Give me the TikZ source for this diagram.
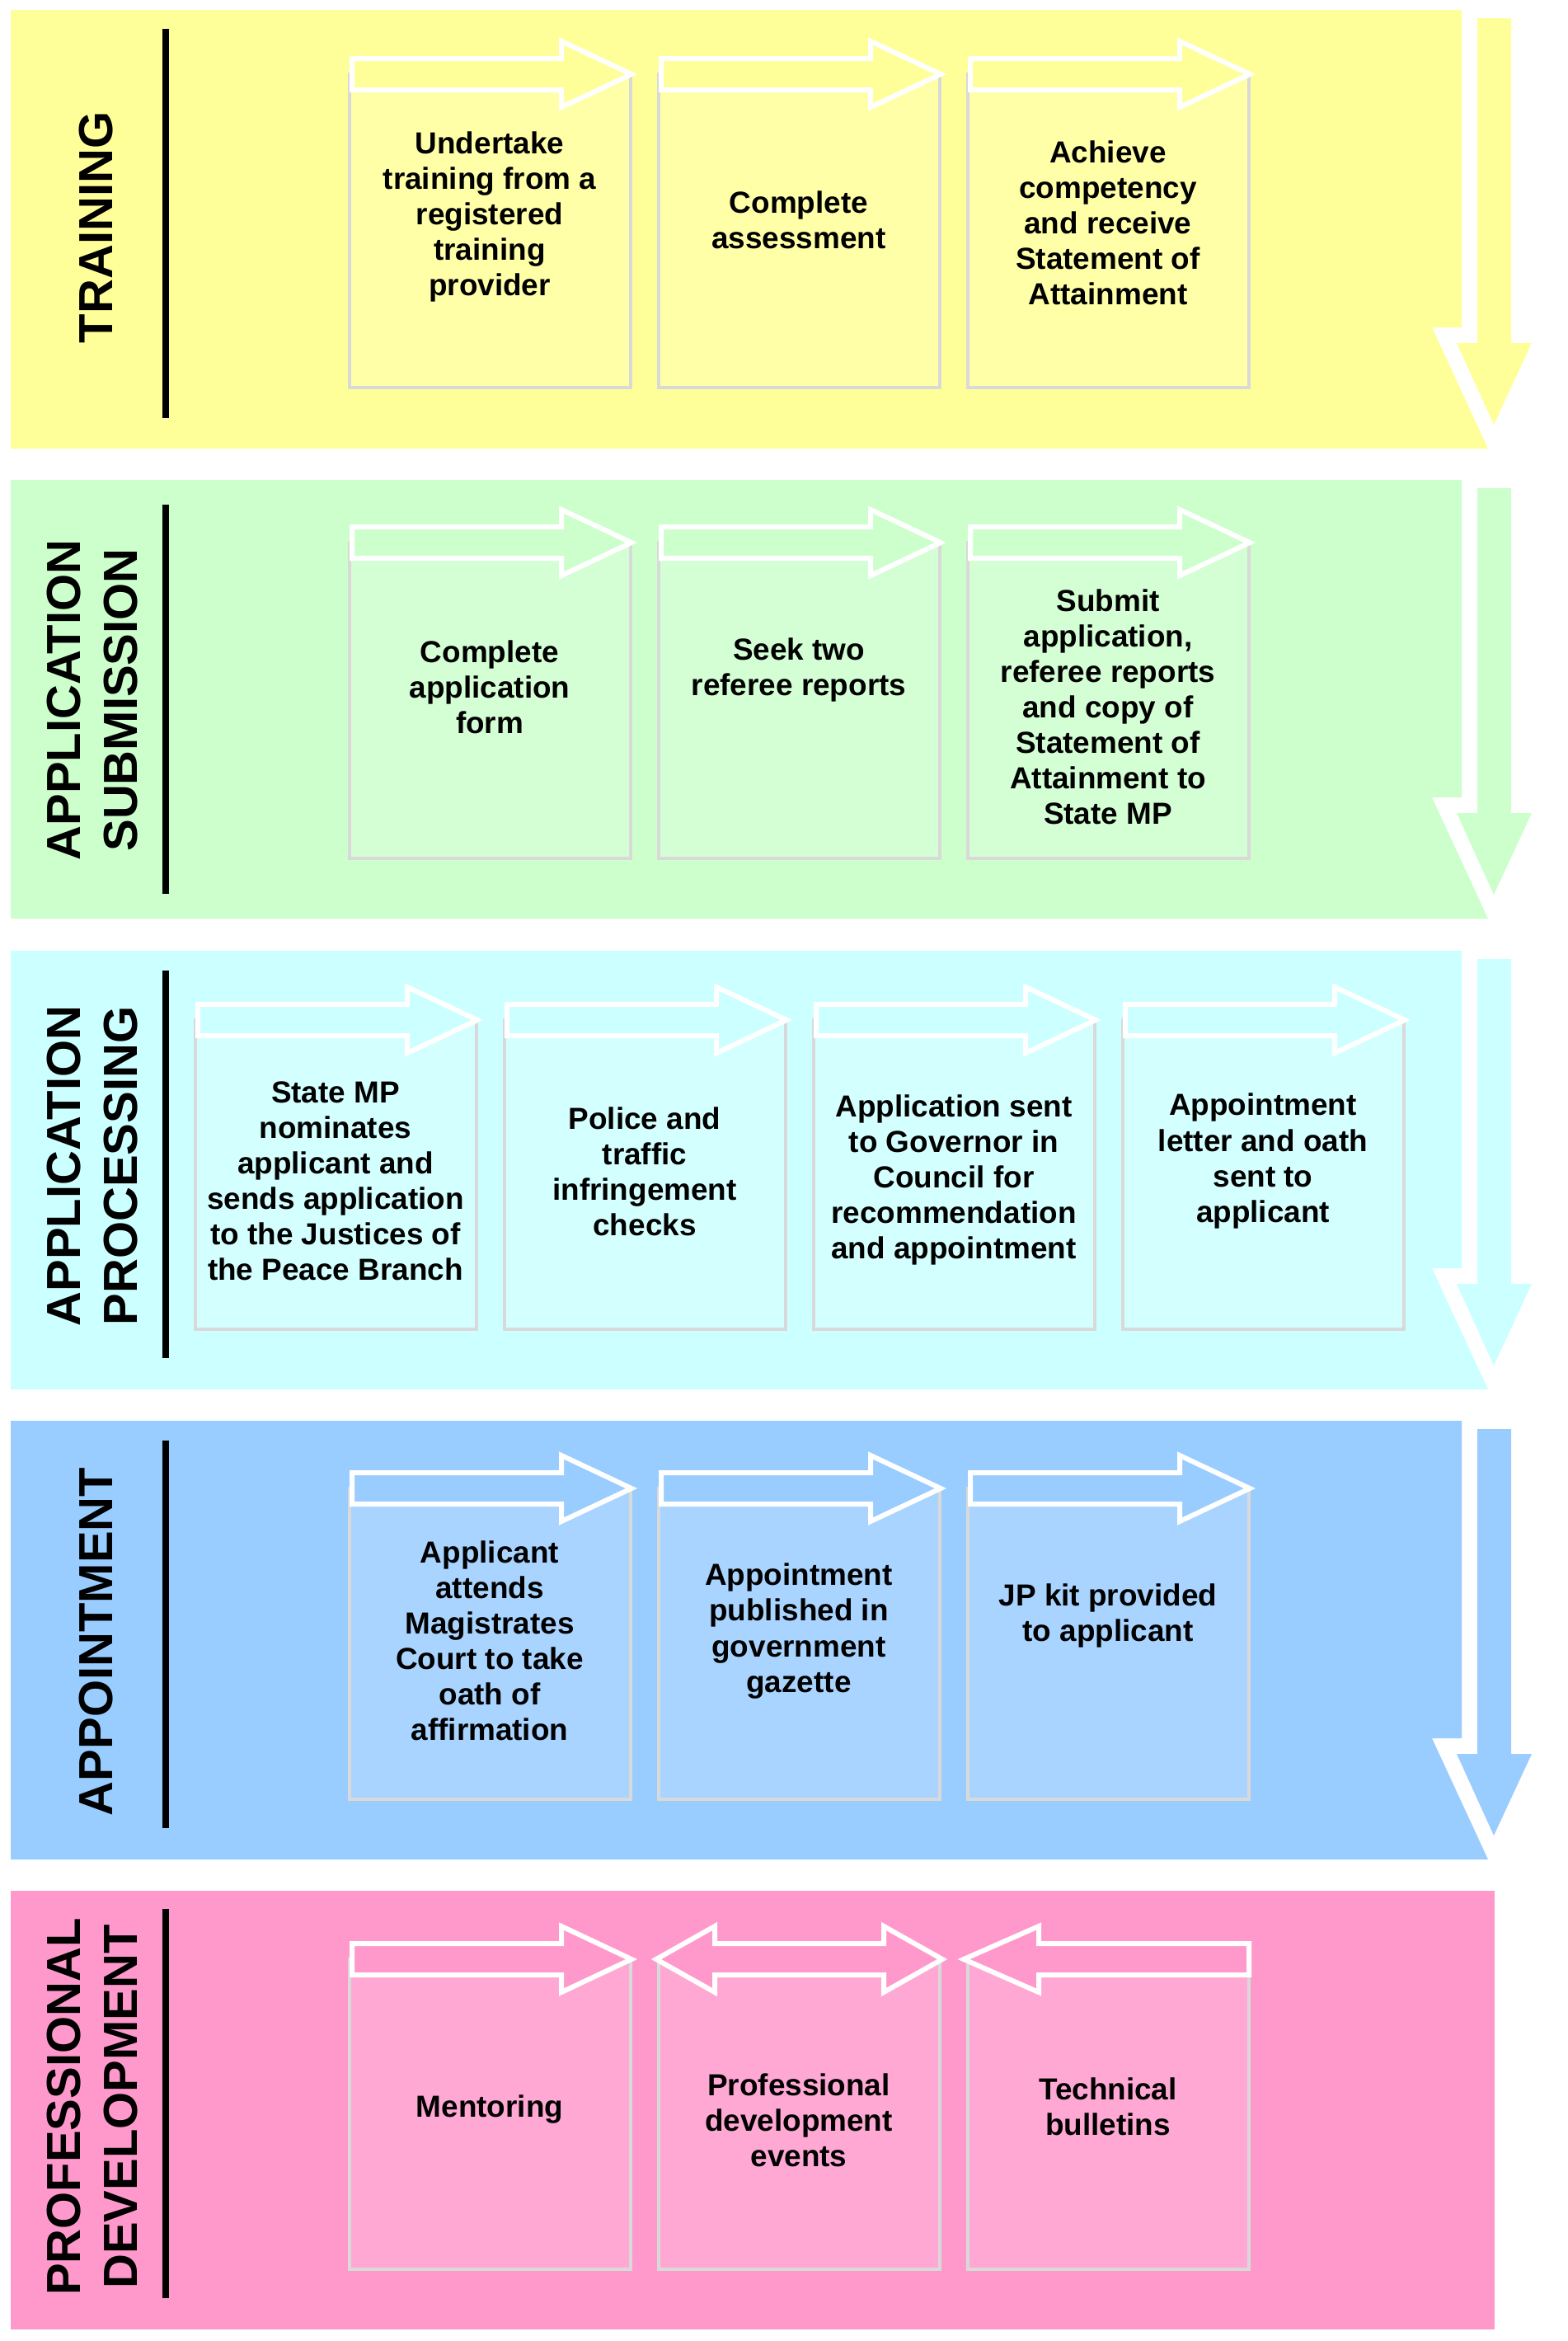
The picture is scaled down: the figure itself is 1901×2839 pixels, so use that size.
\documentclass[tikz,border=0pt]{standalone}
\usepackage{fontspec}
\setmainfont{Liberation Sans}

\definecolor{trainyellow}{HTML}{FFFF99}
\definecolor{submitgreen}{HTML}{CCFFCC}
\definecolor{processcyan}{HTML}{CCFFFF}
\definecolor{appointblue}{HTML}{99CCFF}
\definecolor{developpink}{HTML}{FF99CC}

\tikzset{
  bar/.style={line width=1.6mm, black},
  taskbox/.style={draw=gray!30, line width=0.9mm, minimum width=68.2mm,
    inner sep=0pt, outer sep=0pt, anchor=north west},
  blockarrow/.style={draw=white, line width=1.2mm, line join=miter},
  tasktext/.style={align=center, font=\fontsize{21}{24.5}\selectfont\bfseries},
  bandlabel/.style={rotate=90, align=center, font=\fontsize{33}{39.7}\selectfont\bfseries}
}

% band with notch and the down arrow beside it
\newcommand{\bandshape}[2]{%
  \fill[#2] (13,#1) -- (1773,#1) -- (1773,#1+385) -- (1737,#1+385)
    -- (1805,#1+532) -- (13,#1+532) -- cycle;
  \fill[#2] (1792,#1+10) -- (1833,#1+10) -- (1833,#1+404) -- (1858,#1+404)
    -- (1812,#1+503) -- (1767,#1+404) -- (1792,#1+404) -- cycle;}

% block arrows on top of a box: left x, axis y, colour
\newcommand{\stepright}[3]{%
  \draw[blockarrow, fill=#3] (#1+3,#2-19) -- (#1+257,#2-19) -- (#1+257,#2-40)
    -- (#1+342,#2) -- (#1+257,#2+40) -- (#1+257,#2+19) -- (#1+3,#2+19) -- cycle;}
\newcommand{\stepleft}[3]{%
  \draw[blockarrow, fill=#3] (#1+341,#2-19) -- (#1+86,#2-19) -- (#1+86,#2-40)
    -- (#1-5,#2) -- (#1+86,#2+40) -- (#1+86,#2+19) -- (#1+341,#2+19) -- cycle;}
\newcommand{\stepboth}[3]{%
  \draw[blockarrow, fill=#3] (#1-3,#2) -- (#1+68,#2-40) -- (#1+68,#2-19)
    -- (#1+273,#2-19) -- (#1+273,#2-40) -- (#1+344,#2) -- (#1+273,#2+40)
    -- (#1+273,#2+19) -- (#1+68,#2+19) -- (#1+68,#2+40) -- cycle;}

\begin{document}
\begin{tikzpicture}[x=0.2mm, y=-0.2mm]
  \useasboundingbox (0,0) rectangle (1901,2839);

  % TRAINING
  \bandshape{12}{trainyellow}
  \draw[bar] (201,35) -- (201,507);
  \node[bandlabel] (training) at (117,276) {TRAINING};
  \foreach \x/\n in {424/1,799/2,1174/3}{
    \node[taskbox, fill=trainyellow!85!white, minimum height=76mm] (train\n) at (\x,90) {};
    \stepright{\x}{90}{trainyellow}
  }
  \node[tasktext] (train1txt) at (594,263) {Undertake\\training from a\\registered\\training\\provider};
  \node[tasktext] (train2txt) at (969,267) {Complete\\assessment};
  \node[tasktext] (train3txt) at (1344,270) {Achieve\\competency\\and receive\\Statement of\\Attainment};

  % APPLICATION SUBMISSION
  \bandshape{582}{submitgreen}
  \draw[bar] (201,612) -- (201,1084);
  \node[bandlabel] (submission) at (112,849) {APPLICATION\\SUBMISSION};
  \foreach \x/\n in {424/1,799/2,1174/3}{
    \node[taskbox, fill=submitgreen!85!white, minimum height=76.6mm] (submit\n) at (\x,658) {};
    \stepright{\x}{658}{submitgreen}
  }
  \node[tasktext] (submit1txt) at (594,833) {Complete\\application\\form};
  \node[tasktext] (submit2txt) at (969,812) {Seek two\\referee reports};
  \node[tasktext] (submit3txt) at (1344,857) {Submit\\application,\\referee reports\\and copy of\\Statement of\\Attainment to\\State MP};

  % APPLICATION PROCESSING
  \bandshape{1153}{processcyan}
  \draw[bar] (201,1177) -- (201,1647);
  \node[bandlabel] (processing) at (112,1414) {APPLICATION\\PROCESSING};
  \foreach \x/\n in {237/1,612/2,987/3,1362/4}{
    \node[taskbox, fill=processcyan!85!white, minimum height=75mm] (process\n) at (\x,1237) {};
    \stepright{\x}{1237}{processcyan}
  }
  \node[tasktext] (process1txt) at (407,1432) {State MP\\nominates\\applicant and\\sends application\\to the Justices of\\the Peace Branch};
  \node[tasktext] (process2txt) at (782,1421) {Police and\\traffic\\infringement\\checks};
  \node[tasktext] (process3txt) at (1157,1431) {Application sent\\to Governor in\\Council for\\recommendation\\and appointment};
  \node[tasktext] (process4txt) at (1532,1408) {Appointment\\letter and oath\\sent to\\applicant};

  % APPOINTMENT
  \bandshape{1723}{appointblue}
  \draw[bar] (201,1747) -- (201,2217);
  \node[bandlabel] (appointment) at (117,1991) {APPOINTMENT};
  \foreach \x/\n in {424/1,799/2,1174/3}{
    \node[taskbox, fill=appointblue!85!white, minimum height=75.4mm] (appoint\n) at (\x,1805) {};
    \stepright{\x}{1805}{appointblue}
  }
  \node[tasktext] (appoint1txt) at (594,1990) {Applicant\\attends\\Magistrates\\Court to take\\oath of\\affirmation};
  \node[tasktext] (appoint2txt) at (969,1978) {Appointment\\published in\\government\\gazette};
  \node[tasktext] (appoint3txt) at (1344,1959) {JP kit provided\\to applicant};

  % PROFESSIONAL DEVELOPMENT
  \fill[developpink] (13,2293) rectangle (1813,2825);
  \draw[bar] (201,2315) -- (201,2787);
  \node[bandlabel] (development) at (112,2555) {PROFESSIONAL\\DEVELOPMENT};
  \foreach \x/\n in {424/1,799/2,1174/3}
    \node[taskbox, fill=developpink!85!white, minimum height=75.2mm] (develop\n) at (\x,2376) {};
  \stepright{424}{2376}{developpink}
  \stepboth{799}{2376}{developpink}
  \stepleft{1174}{2376}{developpink}
  \node[tasktext] (develop1txt) at (594,2558) {Mentoring};
  \node[tasktext] (develop2txt) at (969,2571) {Professional\\development\\events};
  \node[tasktext] (develop3txt) at (1344,2555) {Technical\\bulletins};

\end{tikzpicture}
\end{document}
